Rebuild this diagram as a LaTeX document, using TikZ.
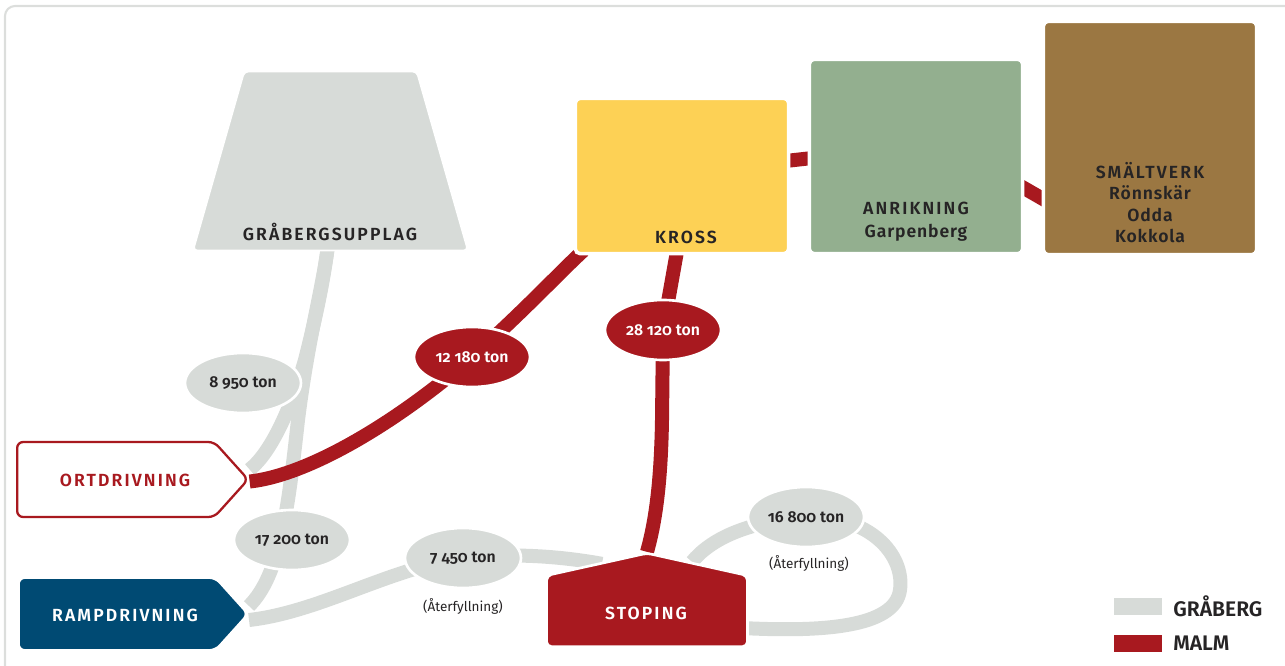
\documentclass[tikz,border=0pt]{standalone}
\usepackage{fontspec}
\setmainfont{Fira Sans}[Numbers=OldStyle]
\newfontfamily\capsfont{Fira Sans SemiBold}[LetterSpace=12]
\newfontfamily\namefont{Fira Sans SemiBold}[LetterSpace=5]
\newfontfamily\numfont{Fira Sans SemiBold}[Numbers=OldStyle]
\newfontfamily\legfont{Fira Sans SemiBold}
\usetikzlibrary{shapes.geometric,shapes.symbols,calc,backgrounds}
\definecolor{graberg}{HTML}{D7DBD8}
\definecolor{malm}{HTML}{A8191F}
\definecolor{kross}{HTML}{FDD155}
\definecolor{anrik}{HTML}{93AF8F}
\definecolor{smalt}{HTML}{9B7742}
\definecolor{ramp}{HTML}{004A73}
\definecolor{ink}{HTML}{262425}
\definecolor{framecol}{HTML}{DCDEDC}
\tikzset{
  grline/.style={graberg,line width=0.28cm},
  mline/.style={malm,line width=0.28cm},
  captxt/.style={font=\capsfont\fontsize{10}{13}\selectfont,text=ink,inner sep=0},
}

\begin{document}
\begin{tikzpicture}[x=0.02cm,y=-0.02cm,
  box/.style={rectangle,rounded corners=0.1cm,draw=white,line width=2pt,
    minimum width=4.27cm,inner sep=0},
  tag/.style={signal,signal to=east,signal pointer angle=96,anchor=west,
    rounded corners=0.12cm,inner sep=2pt},
  house/.style={signal,signal to=north,signal pointer angle=155,anchor=south,
    fill=malm,draw=white,line width=1.5pt,rounded corners=0.1cm,
    minimum width=4.02cm,minimum height=1.44cm,inner sep=2pt},
  ton/.style={ellipse,draw=white,line width=1.5pt,minimum width=2.32cm,
    minimum height=1.2cm,inner sep=0,text=ink,
    font=\numfont\fontsize{9}{10}\selectfont},
  note/.style={font=\fontsize{7.7}{9}\selectfont,text=ink,inner sep=0},
  legbox/.style={minimum width=0.96cm,minimum height=0.34cm,inner sep=0},
  legtxt/.style={font=\legfont\fontsize{12}{13}\selectfont,text=ink,
    anchor=west,inner sep=0}]
  \useasboundingbox (0,0) rectangle (1285,666);
  % stations
  \node[trapezium,trapezium left angle=73.5,trapezium right angle=73.5,
    trapezium stretches=true,minimum width=5.5cm,minimum height=3.58cm,
    fill=graberg,draw=white,line width=1pt,rounded corners=0.08cm,
    inner sep=2pt] (gupp) at (330.5,161) {};
  \node[box,fill=kross,minimum height=3.11cm] (kross) at (682,176) {};
  \node[box,fill=anrik,minimum height=3.89cm] (anrik) at (916,156.5) {};
  \node[box,fill=smalt,minimum height=4.67cm] (smalt) at (1150,138) {};
  \node[tag,fill=white,draw=malm,line width=1.3pt,minimum width=4.62cm,
    minimum height=1.5cm] (ort) at (16,479.5) {};
  \node[tag,fill=ramp,draw=white,line width=1pt,minimum width=4.58cm,
    minimum height=1.44cm] (ramp) at (18,614) {};
  \node[house] (stop) at (647,648) {};
  % station labels
  \node[captxt] (guppt) at (330,232) {GRÅBERGSUPPLAG};
  \node[captxt] (krosst) at (686,237) {KROSS};
  \node[captxt,align=center] (anrikt) at (916,221.5)
    {ANRIKNING\\{\namefont Garpenberg}};
  \node[captxt,align=center,font=\capsfont\fontsize{10}{12.2}\selectfont]
    (smaltt) at (1150,202.5)
    {SMÄLTVERK\\{\namefont Rönnskär}\\{\namefont Odda}\\{\namefont Kokkola}};
  \node[captxt,text=malm] (ortt) at (125,480) {ORTDRIVNING};
  \node[captxt,text=white] (rampt) at (125,615) {RAMPDRIVNING};
  \node[captxt,text=white] (stopt) at (646,613) {STOPING};
  % tonnages
  \node[ton,fill=graberg] (t8950) at (243,383) {8 950 ton};
  \node[ton,fill=malm,text=white] (t12180) at (472,357) {12 180 ton};
  \node[ton,fill=malm,text=white] (t28120) at (663,330) {28 120 ton};
  \node[ton,fill=graberg] (t17200) at (292,540) {17 200 ton};
  \node[ton,fill=graberg] (t7450) at (463,558) {7 450 ton};
  \node[ton,fill=graberg] (t16800) at (806,517) {16 800 ton};
  \node[note] (n7450) at (463,606) {(Återfyllning)};
  \node[note] (n16800) at (809,563) {(Återfyllning)};
  % legend
  \node[legbox,fill=graberg] (leggr) at (1138,606) {};
  \node[legtxt] (leggrt) at (1173,606) {GRÅBERG};
  \node[legbox,fill=malm] (legma) at (1138,643) {};
  \node[legtxt] (legmat) at (1173,643) {MALM};
  % flows
  \begin{pgfonlayer}{background}
    \begin{scope}
      \clip (0,0) rectangle (1285,666);
      \draw[framecol,line width=1.2pt,rounded corners=0.2cm] (5,6) rectangle (1330,700);
    \end{scope}
    \draw[grline] ($(ort.east)+(0,-10)$) .. controls (272,452) and (292,405) ..
      (305,360) .. controls (315,320) and (322,290) .. ($(gupp.south)+(-3,-2)$);
    \draw[grline] ($(ramp.east)+(0,-8)$) .. controls (280,575) and (288,510) ..
      (298,420) .. controls (308,340) and (322,290) .. ($(gupp.south)+(-3,-2)$);
    \draw[grline] ($(ramp.east)+(0,6)$) .. controls (320,612) and (390,568) ..
      (t7450.center) .. controls (520,552) and (570,558) .. ($(stop.north)+(-45,12)$);
    \draw[grline] ($(stop.north)+(45,10)$) .. controls (710,540) and (745,522) ..
      (t16800.center) .. controls (870,515) and (905,555) .. (900,590)
      .. controls (895,628) and (820,632) .. ($(stop.south)+(95,-20)$);
    \draw[mline] ($(ort.east)+(0,2)$) .. controls (310,475) and (400,420) ..
      (t12180.center) .. controls (520,315) and (560,272) .. ($(kross.south west)+(10,-5)$);
    \draw[mline] (stop.north) .. controls (656,520) and (661,480) .. (662,420)
      -- (t28120.center) -- ($(kross.south)+(-5,-4)$);
    \draw[mline] ($(kross.east)+(-5,-15)$) -- ($(anrik.west)+(5,1.5)$);
    \draw[mline] ($(anrik.east)+(-5,29)$) -- ($(smalt.west)+(5,63)$);
  \end{pgfonlayer}
\end{tikzpicture}
\end{document}
